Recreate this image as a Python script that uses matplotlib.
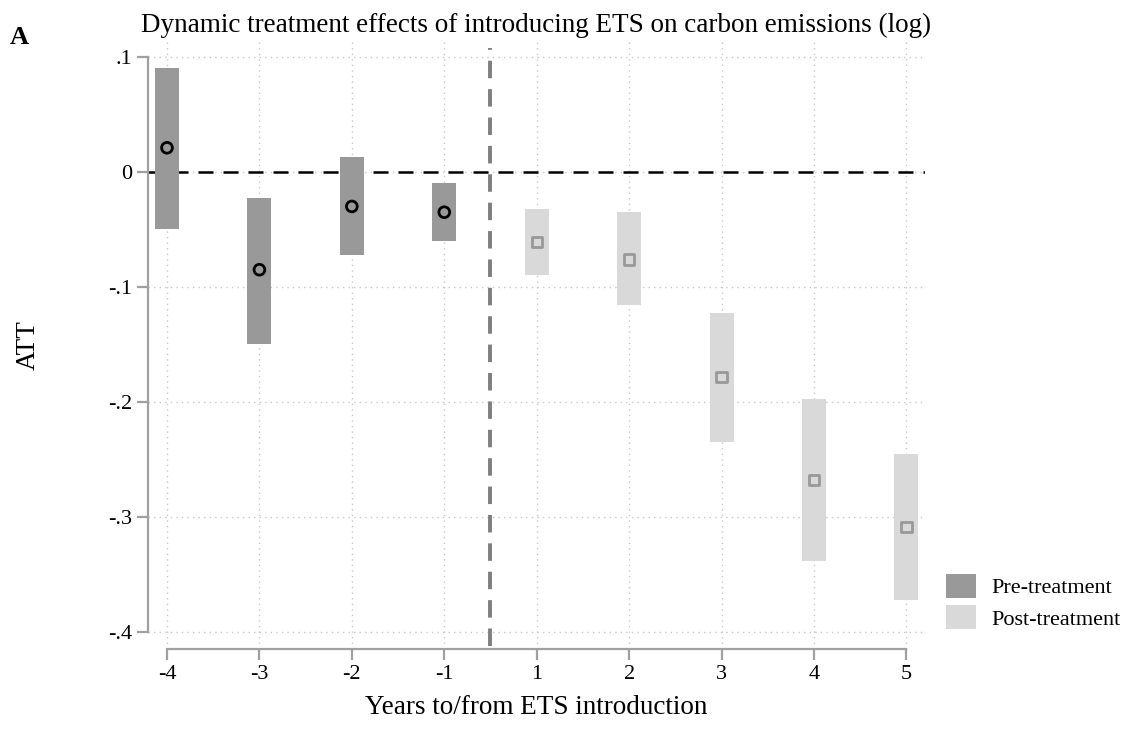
import numpy as np
import matplotlib.pyplot as plt
from matplotlib.patches import Patch

# Datos
etiquetas = ["-4", "-3", "-2", "-1", "1", "2", "3", "4", "5"]
att = [0.021, -0.085, -0.030, -0.035, -0.061, -0.076, -0.178, -0.268, -0.309]
ic_sup = [0.090, -0.023, 0.013, -0.010, -0.032, -0.035, -0.123, -0.197, -0.245]
ic_inf = [-0.050, -0.150, -0.072, -0.060, -0.090, -0.116, -0.235, -0.338, -0.372]
es_pre = [True, True, True, True, False, False, False, False, False]

plt.rcParams['font.family'] = ['Liberation Serif', 'DejaVu Serif']

col_pre = '#999999'
col_post = '#d9d9d9'

fig = plt.figure(figsize=(11.26, 7.29), dpi=100)
ax = fig.add_axes([0.1314, 0.1097, 0.69, 0.8327])

pos = np.arange(len(etiquetas))
att = np.array(att)
ic_sup = np.array(ic_sup)
ic_inf = np.array(ic_inf)
es_pre = np.array(es_pre)

# Barras de intervalos de confianza
for mask, col in [(es_pre, col_pre), (~es_pre, col_post)]:
    ax.bar(pos[mask], ic_sup[mask] - ic_inf[mask], bottom=ic_inf[mask],
           width=0.26, color=col, zorder=2)

# Estimaciones puntuales
ax.scatter(pos[es_pre], att[es_pre], marker='o', s=60, facecolors='none',
           edgecolors='black', linewidths=2, zorder=3)
ax.scatter(pos[~es_pre], att[~es_pre], marker='s', s=55, facecolors='none',
           edgecolors=col_pre, linewidths=2, zorder=3)

ax.axhline(0, color='black', linestyle=(0, (6, 4)), linewidth=1.8, zorder=1)
ax.axvline(3.5, ymin=0.005, ymax=0.99, color='#7f7f7f', linestyle=(0, (4.5, 2.8)),
           linewidth=2.8, zorder=1)

ax.set_xlim(-0.206, 8.2)
ax.set_ylim(-0.4148, 0.113)
ax.set_xticks(pos)
ax.set_xticklabels(etiquetas)
yt = [0.1, 0, -0.1, -0.2, -0.3, -0.4]
ax.set_yticks(yt)
ax.set_yticklabels(['.1', '0', '-.1', '-.2', '-.3', '-.4'])
ax.grid(True, color='#c8c8c8', linestyle=(0, (1, 3)), linewidth=1, zorder=0)
ax.set_axisbelow(True)

for s in ['top', 'right']:
    ax.spines[s].set_visible(False)
ax.spines['left'].set_bounds(-0.4, 0.1)
ax.spines['bottom'].set_bounds(0, 8)
for s in ['left', 'bottom']:
    ax.spines[s].set_color('#a0a0a0')
    ax.spines[s].set_linewidth(1.6)
ax.tick_params(axis='both', colors='#a0a0a0', width=1.6, length=8,
               labelsize=16, labelcolor='black')

ax.set_xlabel("Years to/from ETS introduction", fontsize=19.5, labelpad=8)
ax.set_ylabel("ATT", fontsize=19.5, labelpad=48)
ax.set_title("Dynamic treatment effects of introducing ETS on carbon emissions (log)",
             fontsize=19.5, pad=7)
fig.text(0.009, 0.94, "A", fontsize=19, fontweight='bold')

handles = [Patch(facecolor=col_pre, label='Pre-treatment'),
           Patch(facecolor=col_post, label='Post-treatment')]
fig.legend(handles=handles, loc='lower left', bbox_to_anchor=(0.832, 0.124),
           frameon=False, fontsize=16, handlelength=1.35, handleheight=1.3,
           labelspacing=0.3, handletextpad=0.7, borderaxespad=0)

fig.savefig("out.png", dpi=100)
